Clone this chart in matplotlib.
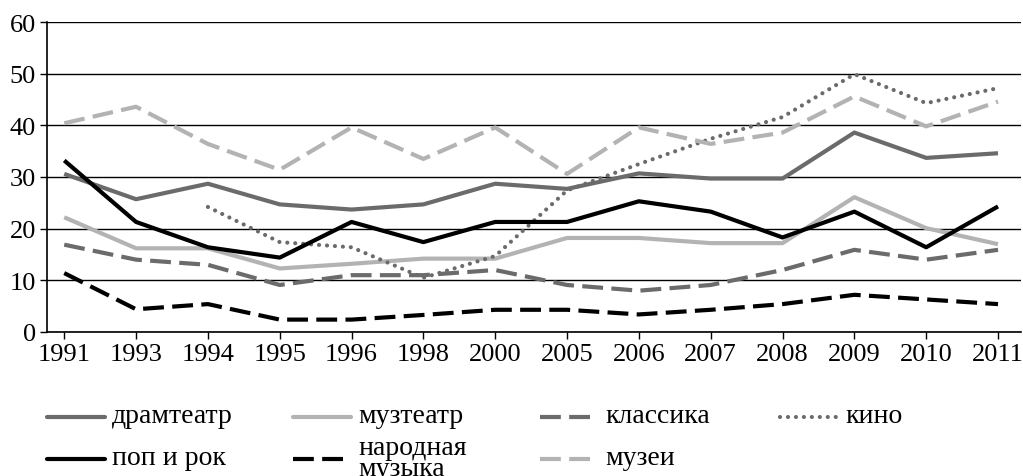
import numpy as np
import matplotlib.pyplot as plt
from matplotlib.lines import Line2D

years = ["1991", "1993", "1994", "1995", "1996", "1998", "2000",
         "2005", "2006", "2007", "2008", "2009", "2010", "2011"]

dramteatr = [30.6, 25.7, 28.7, 24.7, 23.7, 24.7, 28.7, 27.7, 30.7, 29.7, 29.7, 38.6, 33.7, 34.6]
muzteatr = [22.2, 16.2, 16.2, 12.3, 13.2, 14.2, 14.2, 18.2, 18.2, 17.2, 17.2, 26.1, 20.1, 17.0]
klassika = [16.9, 14.0, 13.0, 9.1, 11.0, 11.0, 12.0, 9.1, 8.0, 9.1, 12.0, 15.9, 14.0, 15.9]
kino = [np.nan, np.nan, 24.2, 17.4, 16.4, 10.5, 14.7, 27.4, 32.5, 37.4, 41.6, 49.9, 44.3, 47.2]
pop_rok = [33.2, 21.3, 16.4, 14.4, 21.3, 17.4, 21.3, 21.3, 25.3, 23.3, 18.3, 23.3, 16.4, 24.3]
narodnaya = [11.4, 4.4, 5.4, 2.4, 2.4, 3.3, 4.3, 4.3, 3.4, 4.3, 5.4, 7.2, 6.3, 5.4]
muzei = [40.4, 43.6, 36.4, 31.4, 39.6, 33.5, 39.6, 30.6, 39.6, 36.4, 38.6, 45.6, 39.8, 44.6]

FONT = "Liberation Serif"
plt.rcParams['font.family'] = FONT

dark = "#6b6b6b"
light = "#b3b3b3"
lw = 3
W, H = 1023, 477

fig = plt.figure(figsize=(W / 100, H / 100), dpi=100)
ax = fig.add_axes([47 / W, 1 - 333 / H, (1021 - 47) / W, (333 - 23) / H])
x = np.arange(len(years))

dash = (0, (5, 2))
dot = (0, (0.01, 1.9))
series = [
    ("драмтеатр", dramteatr, dark, "-"),
    ("музтеатр", muzteatr, light, "-"),
    ("классика", klassika, dark, dash),
    ("кино", kino, dark, dot),
    ("поп и рок", pop_rok, "black", "-"),
    ("народная\nмузыка", narodnaya, "black", dash),
    ("музеи", muzei, light, dash),
]
for name, vals, col, ls in series:
    cap = "round" if ls is dot else "butt"
    ax.plot(x, vals, color=col, lw=lw, linestyle=ls,
            dash_capstyle=cap, solid_capstyle="butt")

ax.set_ylim(0, 60)
ax.set_yticks(range(0, 61, 10))
ax.set_yticklabels([str(v) for v in range(0, 61, 10)], family=FONT)
ax.set_xlim(-0.24, 13.32)
ax.set_xticks(x)
ax.set_xticklabels(years, family=FONT)
ax.yaxis.grid(True, color="black", lw=1)
ax.set_axisbelow(True)
for s in ["top", "right"]:
    ax.spines[s].set_visible(False)
ax.spines["left"].set_linewidth(1.2)
ax.spines["bottom"].set_linewidth(1.2)
ax.tick_params(labelsize=19, length=5, width=1, pad=3)

# legend drawn by hand: 4 columns, 2 rows, like the original
col_x = [47, 293, 540, 780]
row_y = [418, 460]
for i, (name, vals, col, ls) in enumerate(series):
    r, c = divmod(i, 4)
    x0, y0 = col_x[c], row_y[r]
    cap = "round" if ls is dot else "butt"
    fig.add_artist(Line2D([x0 / W, (x0 + 58) / W], [1 - y0 / H, 1 - y0 / H],
                          transform=fig.transFigure, color=col, lw=lw,
                          linestyle=ls, dash_capstyle=cap, solid_capstyle="round"))
    fig.text((x0 + 65) / W, 1 - (y0 - 1) / H, name, fontsize=20, family=FONT,
             va="center", ha="left", linespacing=0.75)

fig.savefig("out.png", dpi=100)
